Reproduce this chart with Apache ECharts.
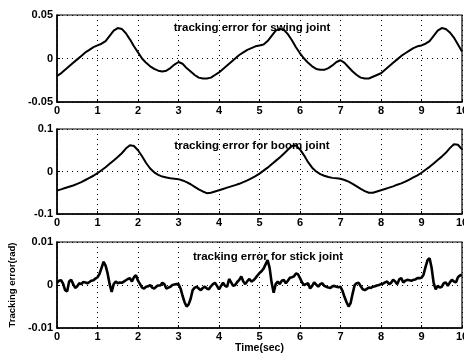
<!DOCTYPE html>
<html>
<head>
<meta charset="utf-8">
<script src="https://cdn.jsdelivr.net/npm/echarts@6/dist/echarts.min.js"></script>
<style>
html,body{margin:0;padding:0;background:#fff;}
#chart{width:464px;height:353px;}
</style>
</head>
<body>
<div id="chart"></div>
<script>
// ---- data ----
const titles = ['tracking error for swing joint', 'tracking error for boom joint', 'tracking error for stick joint'];
const xTicks = [0,1,2,3,4,5,6,7,8,9,10];
const yRanges = [[-0.05, 0.05, 0.05], [-0.1, 0.1, 0.1], [-0.01, 0.01, 0.01]];
const swingStep = 0.1;
const swing = [
 -0.020,-0.017,-0.013,-0.009,-0.005,-0.001,0.003,0.007,0.010,0.013,
 0.015,0.017,0.020,0.026,0.032,0.035,0.034,0.029,0.022,0.014,
 0.007,0.000,-0.005,-0.009,-0.012,-0.014,-0.015,-0.014,-0.011,-0.007,
 -0.004,-0.006,-0.011,-0.015,-0.019,-0.022,-0.023,-0.023,-0.022,-0.019,
 -0.016,-0.012,-0.008,-0.004,0.000,0.004,0.007,0.010,0.012,0.014,
 0.015,0.016,0.020,0.026,0.032,0.034,0.033,0.028,0.021,0.013,
 0.006,0.000,-0.005,-0.009,-0.012,-0.013,-0.013,-0.011,-0.008,-0.004,
 -0.002,-0.005,-0.010,-0.015,-0.019,-0.022,-0.023,-0.023,-0.021,-0.019,
 -0.017,-0.013,-0.009,-0.005,-0.001,0.003,0.006,0.009,0.012,0.014,
 0.015,0.017,0.020,0.026,0.032,0.035,0.034,0.030,0.024,0.016,
 0.008
];
const boomStep = 0.1;
const boom = [
 -0.045,-0.042,-0.039,-0.036,-0.033,-0.029,-0.025,-0.020,-0.015,-0.010,
 -0.004,0.003,0.010,0.018,0.026,0.034,0.043,0.054,0.062,0.060,
 0.050,0.036,0.020,0.007,-0.002,-0.008,-0.012,-0.014,-0.016,-0.017,
 -0.018,-0.021,-0.025,-0.030,-0.036,-0.042,-0.047,-0.051,-0.050,-0.047,
 -0.044,-0.041,-0.038,-0.035,-0.032,-0.029,-0.025,-0.021,-0.016,-0.011,
 -0.005,0.002,0.009,0.017,0.025,0.033,0.042,0.051,0.060,0.061,
 0.052,0.038,0.022,0.009,0.000,-0.006,-0.010,-0.013,-0.015,-0.016,
 -0.017,-0.020,-0.024,-0.029,-0.035,-0.041,-0.046,-0.050,-0.050,-0.047,
 -0.044,-0.041,-0.038,-0.035,-0.031,-0.028,-0.024,-0.019,-0.014,-0.009,
 -0.003,0.004,0.011,0.019,0.027,0.035,0.044,0.055,0.064,0.063,
 0.052
];
const stickStep = 0.05;
const stick = [
 0.0005,0.0010,0.0011,0.0003,-0.0012,-0.0015,0.0008,0.0012,0.0002,-0.0007,
 -0.0003,0.0004,0.0002,0.0007,0.0006,0.0004,0.0007,0.0010,0.0011,0.0015,
 0.0018,0.0026,0.0040,0.0054,0.0045,0.0027,0.0002,-0.0016,0.0002,0.0008,
 0.0004,0.0006,0.0005,0.0008,0.0011,0.0014,0.0016,0.0008,0.0018,0.0023,
 0.0010,0.0002,-0.0006,-0.0008,-0.0004,-0.0003,0.0000,-0.0006,-0.0008,-0.0004,
 -0.0001,-0.0001,0.0005,0.0002,-0.0008,-0.0006,-0.0004,0.0000,0.0001,0.0002,
 0.0002,-0.0008,-0.0025,-0.0040,-0.0050,-0.0045,-0.0032,-0.0012,-0.0006,-0.0004,
 -0.0008,-0.0012,-0.0007,-0.0004,-0.0008,-0.0010,-0.0003,0.0002,0.0005,-0.0002,
 -0.0010,-0.0002,0.0005,-0.0002,-0.0004,0.0014,0.0006,-0.0002,0.0000,0.0007,
 0.0012,0.0020,0.0008,0.0002,0.0009,0.0014,0.0008,0.0011,0.0016,0.0022,
 0.0028,0.0032,0.0038,0.0048,0.0058,0.0040,0.0005,-0.0018,0.0002,0.0008,
 0.0002,0.0010,0.0012,0.0004,0.0010,0.0017,0.0018,0.0020,0.0027,0.0025,
 0.0016,0.0006,0.0000,0.0002,0.0004,-0.0008,-0.0002,0.0006,0.0001,-0.0004,
 0.0002,0.0004,-0.0002,-0.0004,-0.0006,-0.0007,-0.0003,-0.0002,-0.0004,-0.0005,
 -0.0004,-0.0014,-0.0028,-0.0040,-0.0050,-0.0042,-0.0020,0.0000,0.0004,0.0005,
 -0.0003,-0.0010,-0.0012,-0.0009,-0.0006,-0.0007,-0.0004,-0.0003,-0.0001,0.0000,
 0.0002,0.0003,0.0006,0.0008,0.0002,0.0005,0.0012,0.0008,0.0002,0.0013,
 0.0016,0.0006,0.0010,0.0012,0.0011,0.0010,0.0012,0.0013,0.0016,0.0016,
 0.0017,0.0024,0.0042,0.0058,0.0062,0.0040,0.0005,-0.0010,-0.0002,-0.0006,
 -0.0004,0.0004,0.0006,-0.0002,0.0006,0.0012,0.0008,0.0006,0.0018,0.0022,
 0.0024
];

// ---- chart ----
const FONT = '"Liberation Sans", Arial, sans-serif';
const toPairs = (arr, step) => arr.map((v, i) => [Math.round(i * step * 1000) / 1000, v]);
const seriesData = [toPairs(swing, swingStep), toPairs(boom, boomStep), toPairs(stick, stickStep)];
const grids = [
  {left: 57, right: 2, top: 15, height: 87},
  {left: 57, right: 2, top: 129, height: 85},
  {left: 57, right: 2, top: 242, height: 86}
];
const titlePos = [[252, 28], [252, 146], [268, 257]];
const lineWidths = [2, 2, 2.6];

const chart = echarts.init(document.getElementById('chart'), null, {renderer: 'canvas'});
const option = {
  backgroundColor: '#fff',
  animation: false,
  grid: grids.map(g => Object.assign({show: true, borderColor: '#000', borderWidth: 1.2, backgroundColor: 'transparent', containLabel: false, outerBoundsMode: 'none'}, g)),
  xAxis: grids.map((g, i) => ({
    type: 'value', gridIndex: i, min: xTicks[0], max: xTicks[xTicks.length - 1], interval: 1,
    axisLine: {show: true, onZero: false, lineStyle: {color: '#000', width: 1.5}},
    axisTick: {show: true, inside: true, length: 3, lineStyle: {color: '#000'}},
    axisLabel: {color: '#000', fontSize: 11, fontWeight: 'bold', fontFamily: FONT, margin: 3, hideOverlap: false},
    splitLine: {show: true, lineStyle: {color: '#000', type: [1, 4], width: 1}},
    name: i === 2 ? 'Time(sec)' : '',
    nameLocation: 'middle', nameGap: 7,
    nameTextStyle: {color: '#000', fontSize: 10.5, fontWeight: 'bold', fontFamily: FONT, verticalAlign: 'top'}
  })),
  yAxis: grids.map((g, i) => ({
    type: 'value', gridIndex: i, min: yRanges[i][0], max: yRanges[i][1], interval: yRanges[i][2],
    axisLine: {show: true, lineStyle: {color: '#000', width: 1.5}},
    axisTick: {show: true, inside: true, length: 3, lineStyle: {color: '#000'}},
    axisLabel: {color: '#000', fontSize: 11, fontWeight: 'bold', fontFamily: FONT, margin: 4},
    splitLine: {show: true, lineStyle: {color: '#000', type: [1, 4], width: 1}},
    name: i === 2 ? 'Tracking error(rad)' : '',
    nameLocation: 'middle', nameGap: 31,
    nameTextStyle: {color: '#000', fontSize: 9.5, fontWeight: 'bold', fontFamily: FONT}
  })),
  graphic: titles.map((t, i) => ({
    type: 'text', x: titlePos[i][0], y: titlePos[i][1], z: 100,
    style: {text: t, fill: '#000', font: 'bold 11.5px ' + FONT, textAlign: 'center', textVerticalAlign: 'middle'}
  })),
  series: seriesData.map((d, i) => ({
    type: 'line', xAxisIndex: i, yAxisIndex: i, data: d, showSymbol: false, smooth: false,
    lineStyle: {color: '#000', width: lineWidths[i]}, clip: true
  }))
};
chart.setOption(option);
</script>
</body>
</html>
